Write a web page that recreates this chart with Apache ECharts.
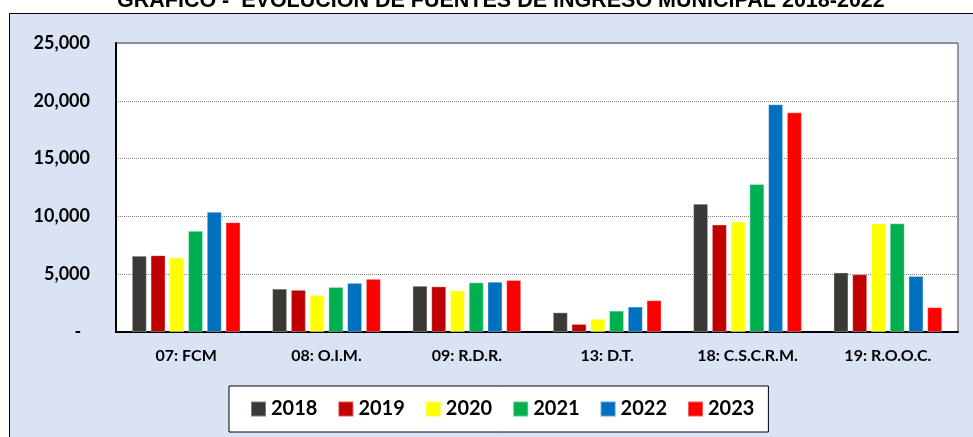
<!DOCTYPE html>
<html>
<head>
<meta charset="utf-8">
<script src="https://cdn.jsdelivr.net/npm/echarts@6/dist/echarts.min.js"></script>
<style>
html, body { margin: 0; padding: 0; background: #fff; }
#main { width: 973px; height: 437px; }
</style>
</head>
<body>
<div id="main"></div>
<script>
var categories = ['07: FCM', '08: O.I.M.', '09: R.D.R.', '13: D.T.', '18: C.S.C.R.M.', '19: R.O.O.C.'];
var years = ['2018', '2019', '2020', '2021', '2022', '2023'];
var v2018 = [6600, 3750, 4000, 1700, 11100, 5150];
var v2019 = [6650, 3650, 3950, 700, 9300, 5000];
var v2020 = [6450, 3200, 3600, 1150, 9550, 9400];
var v2021 = [8750, 3900, 4300, 1850, 12800, 9400];
var v2022 = [10400, 4250, 4350, 2200, 19700, 4850];
var v2023 = [9500, 4600, 4500, 2750, 19000, 2150];
var yearColors = ['#3b3936', '#c00000', '#ffff00', '#00b050', '#0070c0', '#ff0000'];

var myChart = echarts.init(document.getElementById('main'));
var values = [v2018, v2019, v2020, v2021, v2022, v2023];
var series = [];
for (var i = 0; i < years.length; i++) {
    series.push({
        name: years[i],
        type: 'bar',
        data: values[i],
        barWidth: 15,
        barGap: '25%',
        itemStyle: {
            color: yearColors[i],
            borderColor: 'rgba(255,255,255,0.35)',
            borderWidth: 1
        }
    });
}

var option = {
    backgroundColor: '#fff',
    animation: false,
    graphic: [{
        type: 'rect',
        z: -10,
        shape: { x: 9.5, y: 13.5, width: 1000, height: 500 },
        style: { fill: '#dae3f3', stroke: '#000', lineWidth: 1 }
    }],
    title: {
        text: 'GRAFICO -  EVOLUCION DE FUENTES DE INGRESO MUNICIPAL 2018-2022',
        left: 117,
        top: -10,
        padding: 0,
        textStyle: {
            fontFamily: 'Liberation Sans',
            fontWeight: 'bold',
            fontSize: 21.5,
            color: '#000'
        }
    },
    legend: {
        data: years,
        left: 229,
        top: 386,
        padding: [13, 14, 13, 21],
        itemWidth: 15,
        itemHeight: 15,
        itemGap: 20,
        itemTextGap: 6,
        icon: 'rect',
        backgroundColor: '#fff',
        borderColor: '#000',
        borderWidth: 1,
        textStyle: {
            fontFamily: 'Lato',
            fontWeight: 'bold',
            fontSize: 20,
            color: '#000'
        }
    },
    grid: {
        left: 116,
        right: 15,
        top: 43,
        bottom: 105,
        show: true,
        backgroundColor: '#fff',
        borderColor: '#404040',
        borderWidth: 1
    },
    xAxis: {
        type: 'category',
        data: categories,
        axisTick: { show: false },
        axisLine: { lineStyle: { color: '#000', width: 2 } },
        axisLabel: {
            margin: 16,
            fontFamily: 'Lato',
            fontWeight: 'bold',
            fontSize: 16,
            color: '#000'
        }
    },
    yAxis: {
        type: 'value',
        min: 0,
        max: 25000,
        interval: 5000,
        axisTick: { show: false },
        axisLine: { show: true, lineStyle: { color: '#000', width: 2 } },
        splitLine: { lineStyle: { color: '#808080', type: 'dotted', width: 1 } },
        axisLabel: {
            margin: 26,
            fontFamily: 'Lato',
            fontWeight: 'bold',
            fontSize: 18,
            color: '#000',
            formatter: function (v) {
                if (v === 0) {
                    return '-  ';
                }
                return v.toLocaleString('en-US');
            }
        }
    },
    series: series
};
myChart.setOption(option);
</script>
</body>
</html>
